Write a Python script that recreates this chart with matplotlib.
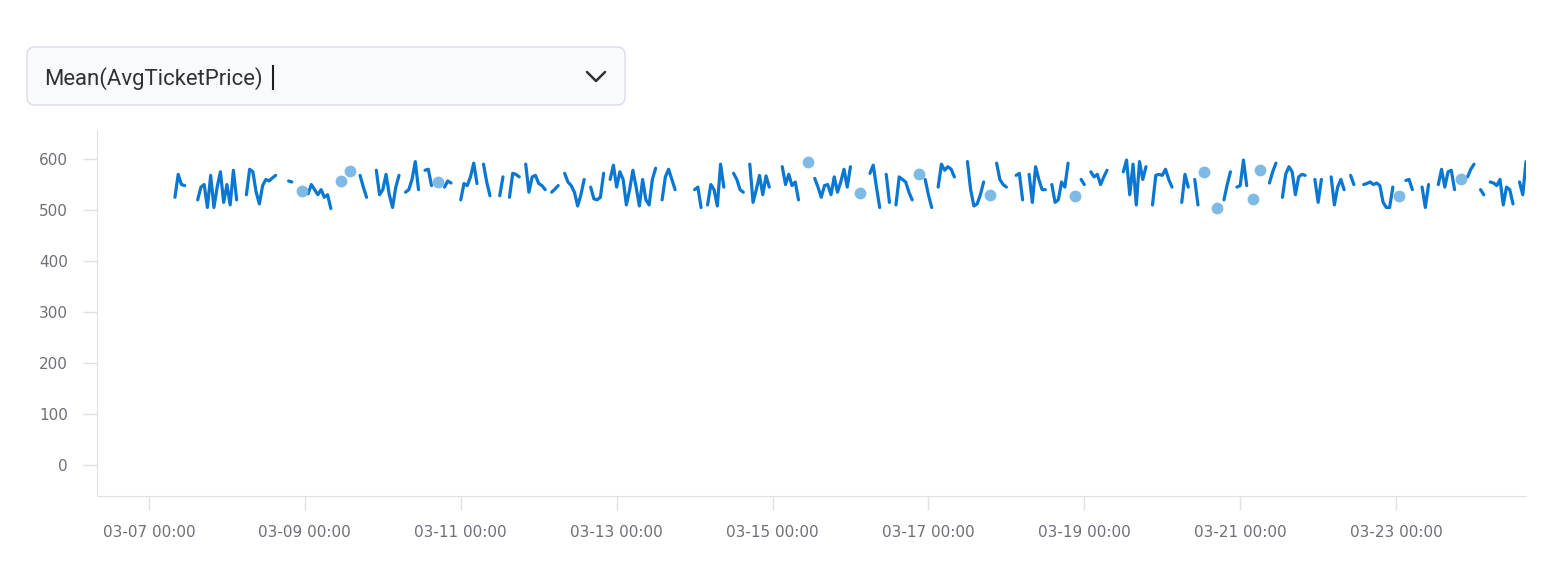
import numpy as np
import pandas as pd
import matplotlib
matplotlib.use("Agg")
import matplotlib.pyplot as plt
import matplotlib.dates as mdates
from matplotlib.patches import FancyBboxPatch

nan = np.nan

# hourly mean ticket price, gaps = no data
start = "2024-03-07 08:00"
prices = [
    525, 570, 550, 548, nan, nan, nan, 520, 545, 550,
    505, 568, 505, 545, 575, 515, 550, 510, 578, 520,
    nan, nan, 530, 580, 575, 535, 512, 548, 560, 557,
    563, 568, nan, nan, nan, 557, 555, nan, nan, 537,
    nan, 532, 550, 540, 530, 540, 525, 530, 503, nan,
    nan, 557, nan, nan, 576, nan, nan, 568, 545, 525,
    nan, nan, 578, 530, 540, 570, 530, 505, 545, 568,
    nan, 535, 540, 560, 595, 540, nan, 578, 580, 548,
    nan, 555, nan, 545, 557, 553, nan, nan, 520, 552,
    548, 565, 592, 552, nan, 590, 555, 528, nan, nan,
    528, 565, nan, 525, 572, 570, 565, nan, 590, 535,
    565, 568, 552, 548, 540, nan, 535, 541, 548, nan,
    572, 555, 548, 535, 508, 530, 560, nan, 545, 522,
    520, 525, 572, nan, 560, 588, 545, 575, 560, 510,
    540, 578, 545, 508, 560, 520, 510, 560, 582, nan,
    520, 565, 580, 560, 540, nan, nan, nan, nan, nan,
    540, 545, 505, nan, 510, 550, 540, 508, 590, 545,
    nan, nan, 572, 560, 540, 535, nan, 590, 515, 540,
    568, 530, 567, 545, nan, nan, nan, 585, 550, 570,
    548, 555, 520, nan, nan, 594, nan, 562, 545, 525,
    548, 550, 530, 565, 535, 555, 580, 545, 585, nan,
    nan, 533, nan, nan, 572, 588, 545, 505, nan, 570,
    515, nan, 510, 565, 560, 555, 535, 520, nan, 570,
    nan, 560, 530, 505, nan, 545, 590, 578, 585, 580,
    565, nan, nan, nan, 595, 540, 508, 512, 530, 555,
    nan, 529, nan, 592, 560, 550, 545, nan, nan, 568,
    572, 520, nan, 570, 515, 585, 560, 540, 540, nan,
    550, 515, 520, 555, 545, 592, nan, 527, nan, 560,
    550, nan, 575, 565, 570, 550, 565, 578, nan, nan,
    nan, nan, 575, 598, 530, 590, 510, 595, 560, 585,
    nan, 510, 568, 570, 568, 580, 560, 545, nan, nan,
    515, 570, 545, nan, 560, 510, nan, 574, nan, nan,
    nan, 504, nan, 520, 550, 575, nan, 545, 548, 598,
    548, nan, 522, nan, 578, nan, nan, 553, 575, 592,
    nan, 525, 570, 585, 575, 530, 565, 570, 568, nan,
    nan, 560, 515, 560, nan, nan, 565, 510, 545, 560,
    540, nan, 568, 550, nan, nan, 550, 552, 555, 550,
    553, 548, 515, 505, 505, 545, nan, 527, nan, 558,
    560, 540, nan, nan, 545, 505, 550, nan, nan, 550,
    580, 545, 575, 578, 540, nan, 561, nan, 565, 580,
    590, nan, 540, 530, nan, 555, 553, 548, 560, 510,
    545, 540, 512, nan, 555, 530, 595,
]
x_ticks = pd.date_range("2024-03-07", "2024-03-23", freq="2D")
y_ticks = [0, 100, 200, 300, 400, 500, 600]
selected = "Mean(AvgTicketPrice)"

times = pd.date_range(start, periods=len(prices), freq="h")
vals = np.array(prices, dtype=float)
ok = ~np.isnan(vals)
prev_ok = np.r_[False, ok[:-1]]
next_ok = np.r_[ok[1:], False]
single = ok & ~prev_ok & ~next_ok

W, H = 1567, 563
fig = plt.figure(figsize=(W / 100, H / 100), dpi=100)

# dropdown on top
bg = fig.add_axes([0, 0, 1, 1])
bg.set_xlim(0, W)
bg.set_ylim(H, 0)
bg.axis("off")
bg.add_patch(FancyBboxPatch((27, 47), 598, 58, boxstyle="round,pad=0,rounding_size=8",
                            fc="#f9fafc", ec="#dfe2ee", lw=1.2))
bg.text(44, 78.5, selected, fontsize=15.9, family=["Roboto", "DejaVu Sans"],
        color="#303133", va="center", ha="left")
bg.plot([273, 273], [66, 89], color="#1f1f1f", lw=1.5)
bg.plot([587, 596, 605], [72, 81, 72], color="#303133", lw=1.8, solid_capstyle="round",
        solid_joinstyle="round")

ax = fig.add_axes([97 / W, 1 - 496 / H, (1526 - 97) / W, (496 - 130) / H])
ax.plot(times, vals, color="#0a77d2", lw=2.3, solid_capstyle="round", solid_joinstyle="round")
ax.plot(times[single], vals[single], "o", color="#7fb9e6", ms=8.5, mec="none")

ax.set_xlim(pd.Timestamp("2024-03-06 08:00"), times[-1])
ax.set_ylim(-61, 657)
ax.set_yticks(y_ticks)
ax.set_xticks(x_ticks)
ax.xaxis.set_major_formatter(mdates.DateFormatter("%m-%d %H:%M"))

for s in ["top", "right"]:
    ax.spines[s].set_visible(False)
for s in ["left", "bottom"]:
    ax.spines[s].set_color("#e0e0e6")
ax.tick_params(axis="both", colors="#e0e0e6", labelcolor="#6e7079", labelsize=11,
               length=10, width=1)
ax.tick_params(axis="y", pad=11)
ax.tick_params(axis="x", pad=11)

fig.savefig("out.png", dpi=100)
